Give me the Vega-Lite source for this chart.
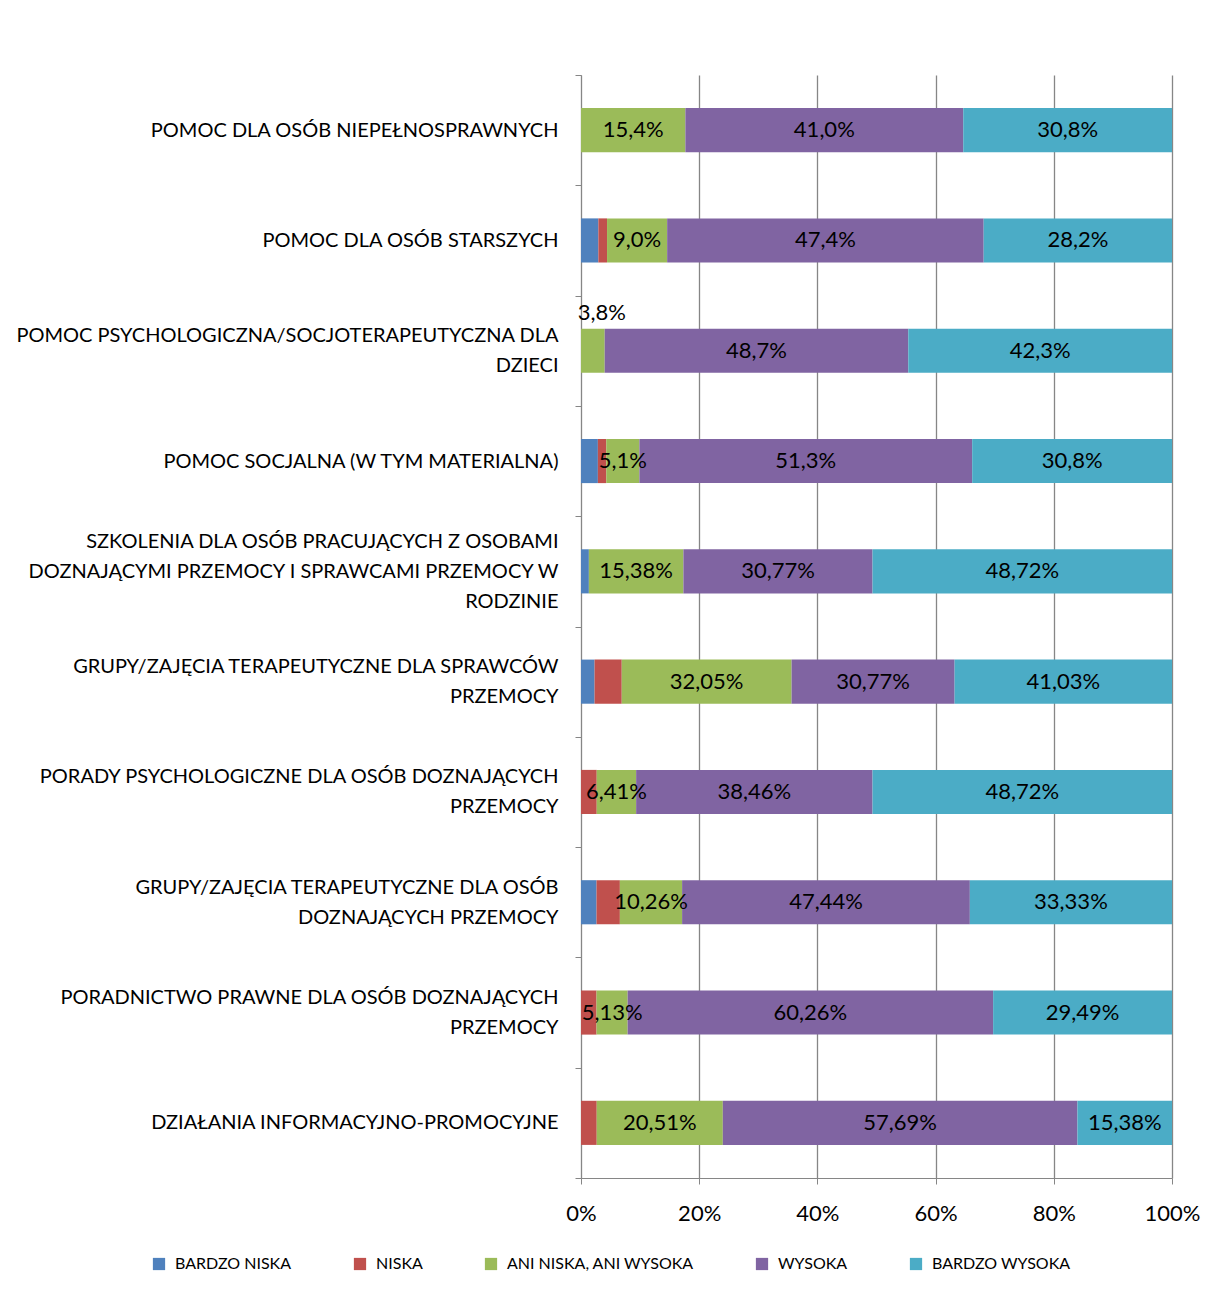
{
  "$schema": "https://vega.github.io/schema/vega-lite/v6.json",
  "autosize": "none",
  "padding": {"left": 581, "top": 75, "right": 42, "bottom": 130},
  "width": 591,
  "height": 1103,
  "background": "white",
  "config": {
    "font": "Lato",
    "view": {"stroke": null},
    "axis": {"labelFont": "Lato", "labelColor": "#000000", "domainColor": "#868686", "tickColor": "#868686", "gridColor": "#868686", "gridOpacity": 1}
  },
  "data": {
    "values": [
      {"category": "POMOC DLA OSÓB NIEPEŁNOSPRAWNYCH", "series": "Ani niska, ani wysoka", "value": 15.4, "label": "15,4%"},
      {"category": "POMOC DLA OSÓB NIEPEŁNOSPRAWNYCH", "series": "Wysoka", "value": 41.0, "label": "41,0%"},
      {"category": "POMOC DLA OSÓB NIEPEŁNOSPRAWNYCH", "series": "Bardzo wysoka", "value": 30.8, "label": "30,8%"},
      {"category": "POMOC DLA OSÓB STARSZYCH", "series": "Bardzo niska", "value": 2.6, "label": ""},
      {"category": "POMOC DLA OSÓB STARSZYCH", "series": "Niska", "value": 1.3, "label": ""},
      {"category": "POMOC DLA OSÓB STARSZYCH", "series": "Ani niska, ani wysoka", "value": 9.0, "label": "9,0%"},
      {"category": "POMOC DLA OSÓB STARSZYCH", "series": "Wysoka", "value": 47.4, "label": "47,4%"},
      {"category": "POMOC DLA OSÓB STARSZYCH", "series": "Bardzo wysoka", "value": 28.2, "label": "28,2%"},
      {"category": "POMOC PSYCHOLOGICZNA/SOCJOTERAPEUTYCZNA DLA|DZIECI", "series": "Ani niska, ani wysoka", "value": 3.8, "label": "3,8%"},
      {"category": "POMOC PSYCHOLOGICZNA/SOCJOTERAPEUTYCZNA DLA|DZIECI", "series": "Wysoka", "value": 48.7, "label": "48,7%"},
      {"category": "POMOC PSYCHOLOGICZNA/SOCJOTERAPEUTYCZNA DLA|DZIECI", "series": "Bardzo wysoka", "value": 42.3, "label": "42,3%"},
      {"category": "POMOC SOCJALNA (W TYM MATERIALNA)", "series": "Bardzo niska", "value": 2.6, "label": ""},
      {"category": "POMOC SOCJALNA (W TYM MATERIALNA)", "series": "Niska", "value": 1.3, "label": ""},
      {"category": "POMOC SOCJALNA (W TYM MATERIALNA)", "series": "Ani niska, ani wysoka", "value": 5.1, "label": "5,1%"},
      {"category": "POMOC SOCJALNA (W TYM MATERIALNA)", "series": "Wysoka", "value": 51.3, "label": "51,3%"},
      {"category": "POMOC SOCJALNA (W TYM MATERIALNA)", "series": "Bardzo wysoka", "value": 30.8, "label": "30,8%"},
      {"category": "SZKOLENIA DLA OSÓB PRACUJĄCYCH Z OSOBAMI|DOZNAJĄCYMI PRZEMOCY I SPRAWCAMI PRZEMOCY W|RODZINIE", "series": "Bardzo niska", "value": 1.28, "label": ""},
      {"category": "SZKOLENIA DLA OSÓB PRACUJĄCYCH Z OSOBAMI|DOZNAJĄCYMI PRZEMOCY I SPRAWCAMI PRZEMOCY W|RODZINIE", "series": "Ani niska, ani wysoka", "value": 15.38, "label": "15,38%"},
      {"category": "SZKOLENIA DLA OSÓB PRACUJĄCYCH Z OSOBAMI|DOZNAJĄCYMI PRZEMOCY I SPRAWCAMI PRZEMOCY W|RODZINIE", "series": "Wysoka", "value": 30.77, "label": "30,77%"},
      {"category": "SZKOLENIA DLA OSÓB PRACUJĄCYCH Z OSOBAMI|DOZNAJĄCYMI PRZEMOCY I SPRAWCAMI PRZEMOCY W|RODZINIE", "series": "Bardzo wysoka", "value": 48.72, "label": "48,72%"},
      {"category": "GRUPY/ZAJĘCIA TERAPEUTYCZNE DLA SPRAWCÓW|PRZEMOCY", "series": "Bardzo niska", "value": 2.56, "label": ""},
      {"category": "GRUPY/ZAJĘCIA TERAPEUTYCZNE DLA SPRAWCÓW|PRZEMOCY", "series": "Niska", "value": 5.13, "label": ""},
      {"category": "GRUPY/ZAJĘCIA TERAPEUTYCZNE DLA SPRAWCÓW|PRZEMOCY", "series": "Ani niska, ani wysoka", "value": 32.05, "label": "32,05%"},
      {"category": "GRUPY/ZAJĘCIA TERAPEUTYCZNE DLA SPRAWCÓW|PRZEMOCY", "series": "Wysoka", "value": 30.77, "label": "30,77%"},
      {"category": "GRUPY/ZAJĘCIA TERAPEUTYCZNE DLA SPRAWCÓW|PRZEMOCY", "series": "Bardzo wysoka", "value": 41.03, "label": "41,03%"},
      {"category": "PORADY PSYCHOLOGICZNE DLA OSÓB DOZNAJĄCYCH|PRZEMOCY", "series": "Niska", "value": 2.56, "label": ""},
      {"category": "PORADY PSYCHOLOGICZNE DLA OSÓB DOZNAJĄCYCH|PRZEMOCY", "series": "Ani niska, ani wysoka", "value": 6.41, "label": "6,41%"},
      {"category": "PORADY PSYCHOLOGICZNE DLA OSÓB DOZNAJĄCYCH|PRZEMOCY", "series": "Wysoka", "value": 38.46, "label": "38,46%"},
      {"category": "PORADY PSYCHOLOGICZNE DLA OSÓB DOZNAJĄCYCH|PRZEMOCY", "series": "Bardzo wysoka", "value": 48.72, "label": "48,72%"},
      {"category": "GRUPY/ZAJĘCIA TERAPEUTYCZNE DLA OSÓB|DOZNAJĄCYCH PRZEMOCY", "series": "Bardzo niska", "value": 2.56, "label": ""},
      {"category": "GRUPY/ZAJĘCIA TERAPEUTYCZNE DLA OSÓB|DOZNAJĄCYCH PRZEMOCY", "series": "Niska", "value": 3.85, "label": ""},
      {"category": "GRUPY/ZAJĘCIA TERAPEUTYCZNE DLA OSÓB|DOZNAJĄCYCH PRZEMOCY", "series": "Ani niska, ani wysoka", "value": 10.26, "label": "10,26%"},
      {"category": "GRUPY/ZAJĘCIA TERAPEUTYCZNE DLA OSÓB|DOZNAJĄCYCH PRZEMOCY", "series": "Wysoka", "value": 47.44, "label": "47,44%"},
      {"category": "GRUPY/ZAJĘCIA TERAPEUTYCZNE DLA OSÓB|DOZNAJĄCYCH PRZEMOCY", "series": "Bardzo wysoka", "value": 33.33, "label": "33,33%"},
      {"category": "PORADNICTWO PRAWNE DLA OSÓB DOZNAJĄCYCH|PRZEMOCY", "series": "Niska", "value": 2.56, "label": ""},
      {"category": "PORADNICTWO PRAWNE DLA OSÓB DOZNAJĄCYCH|PRZEMOCY", "series": "Ani niska, ani wysoka", "value": 5.13, "label": "5,13%"},
      {"category": "PORADNICTWO PRAWNE DLA OSÓB DOZNAJĄCYCH|PRZEMOCY", "series": "Wysoka", "value": 60.26, "label": "60,26%"},
      {"category": "PORADNICTWO PRAWNE DLA OSÓB DOZNAJĄCYCH|PRZEMOCY", "series": "Bardzo wysoka", "value": 29.49, "label": "29,49%"},
      {"category": "DZIAŁANIA INFORMACYJNO-PROMOCYJNE", "series": "Niska", "value": 2.56, "label": ""},
      {"category": "DZIAŁANIA INFORMACYJNO-PROMOCYJNE", "series": "Ani niska, ani wysoka", "value": 20.51, "label": "20,51%"},
      {"category": "DZIAŁANIA INFORMACYJNO-PROMOCYJNE", "series": "Wysoka", "value": 57.69, "label": "57,69%"},
      {"category": "DZIAŁANIA INFORMACYJNO-PROMOCYJNE", "series": "Bardzo wysoka", "value": 15.38, "label": "15,38%"}
    ]
  },
  "transform": [
    {"calculate": "indexof(['Bardzo niska', 'Niska', 'Ani niska, ani wysoka', 'Wysoka', 'Bardzo wysoka'], datum.series)", "as": "k"}
  ],
  "encoding": {
    "y": {
      "field": "category",
      "type": "nominal",
      "sort": null,
      "scale": {"paddingInner": 0, "paddingOuter": 0},
      "axis": {
        "title": null,
        "labelExpr": "split(datum.label, '|')",
        "labelFontSize": 20,
        "labelLineHeight": 30,
        "labelPadding": 17,
        "labelLimit": 600,
        "labelOffset": {"expr": "-(length(split(datum.value, '|')) - 1) * 15"},
        "tickBand": "extent",
        "tickSize": 6,
        "grid": false
      }
    },
    "x": {
      "field": "value",
      "type": "quantitative",
      "stack": "normalize",
      "scale": {"domain": [0, 1]},
      "axis": {
        "title": null,
        "format": ".0%",
        "values": [0, 0.2, 0.4, 0.6, 0.8, 1],
        "labelFontSize": 22,
        "labelPadding": 19,
        "labelFlush": false,
        "tickSize": 6,
        "grid": true,
        "gridWidth": 1.3
      }
    },
    "order": {"field": "k", "type": "quantitative", "sort": "ascending"}
  },
  "layer": [
    {
      "mark": {"type": "bar", "height": {"band": 0.4}},
      "encoding": {
        "color": {
          "field": "series",
          "type": "nominal",
          "sort": ["Bardzo niska", "Niska", "Ani niska, ani wysoka", "Wysoka", "Bardzo wysoka"],
          "scale": {
            "domain": ["Bardzo niska", "Niska", "Ani niska, ani wysoka", "Wysoka", "Bardzo wysoka"],
            "range": ["#4F81BD", "#C0504D", "#9BBB59", "#8064A2", "#4BACC6"]
          },
          "legend": {
            "title": null,
            "orient": "none",
            "direction": "horizontal",
            "legendX": -430,
            "legendY": 1181,
            "symbolType": "square",
            "symbolSize": 150,
            "symbolStrokeWidth": 0,
            "symbolOpacity": 1,
            "labelFontSize": 16,
            "labelColor": "#000000",
            "labelOffset": 8,
            "labelLimit": 400,
            "columnPadding": 60,
            "labelExpr": "upper(datum.label)"
          }
        }
      }
    },
    {
      "mark": {"type": "text", "fontSize": 22, "color": "#000000"},
      "encoding": {
        "x": {"field": "value", "type": "quantitative", "stack": "normalize", "bandPosition": 0.5},
        "detail": {"field": "series"},
        "text": {
          "condition": {"test": "datum.series === 'Ani niska, ani wysoka' && datum.value < 4", "value": ""},
          "field": "label"
        }
      }
    },
    {
      "mark": {"type": "text", "fontSize": 22, "color": "#000000", "dy": -38, "dx": 9},
      "encoding": {
        "x": {"field": "value", "type": "quantitative", "stack": "normalize", "bandPosition": 0.5},
        "detail": {"field": "series"},
        "text": {
          "condition": {"test": "datum.series === 'Ani niska, ani wysoka' && datum.value < 4", "field": "label"},
          "value": ""
        }
      }
    }
  ]
}
